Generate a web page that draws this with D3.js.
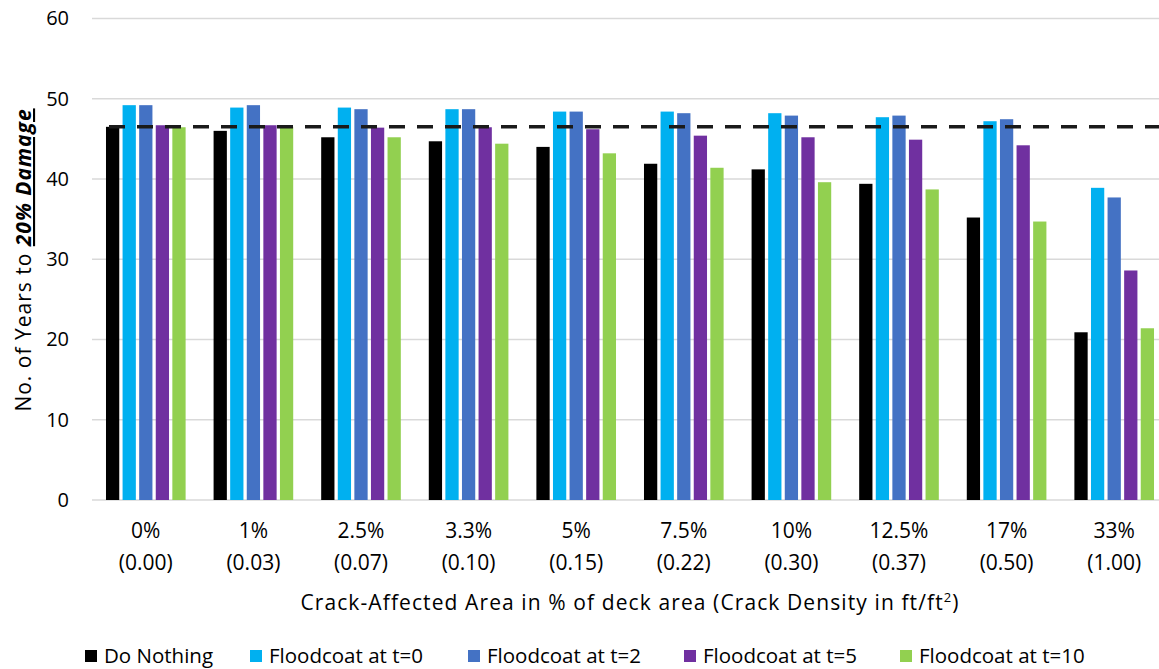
<!DOCTYPE html>
<html>
<head>
<meta charset="utf-8">
<script src="https://cdn.jsdelivr.net/npm/d3@7"></script>
<style>
  html, body { margin: 0; padding: 0; background: #fff; }
  svg { display: block; font-family: "Open Sans", Lato, sans-serif; }
</style>
</head>
<body>
<svg id="chart" width="1159" height="669"></svg>
<script>
// Crack-affected area categories (two-line labels)
const categories = ["0%", "1%", "2.5%", "3.3%", "5%", "7.5%", "10%", "12.5%", "17%", "33%"];
const densities = ["(0.00)", "(0.03)", "(0.07)", "(0.10)", "(0.15)", "(0.22)", "(0.30)", "(0.37)", "(0.50)", "(1.00)"];

// Years to 20% damage for each strategy
const doNothing = [46.5, 46.0, 45.2, 44.7, 44.0, 41.9, 41.2, 39.4, 35.2, 20.9];
const floodT0   = [49.2, 48.9, 48.9, 48.7, 48.4, 48.4, 48.2, 47.7, 47.2, 38.9];
const floodT2   = [49.2, 49.2, 48.7, 48.7, 48.4, 48.2, 47.9, 47.9, 47.45, 37.7];
const floodT5   = [46.7, 46.7, 46.4, 46.45, 46.2, 45.4, 45.2, 44.9, 44.2, 28.6];
const floodT10  = [46.45, 46.5, 45.2, 44.4, 43.2, 41.4, 39.6, 38.7, 34.7, 21.4];

const seriesNames = ["Do Nothing", "Floodcoat at t=0", "Floodcoat at t=2", "Floodcoat at t=5", "Floodcoat at t=10"];
const seriesValues = [doNothing, floodT0, floodT2, floodT5, floodT10];
const seriesColors = ["#000000", "#00b0f0", "#4472c4", "#7030a0", "#92d050"];

const yTicks = [0, 10, 20, 30, 40, 50, 60];
const referenceLevel = 46.5; // Do Nothing at 0% crack area

const svg = d3.select("#chart");
const plot = { left: 92, right: 1168, top: 18.5, bottom: 500 };

const y = d3.scaleLinear().domain([0, 60]).range([plot.bottom, plot.top]);
const x0 = d3.scaleBand().domain(categories).range([plot.left, plot.right])
  .paddingInner(0.26).paddingOuter(0.13);
const x1 = d3.scaleBand().domain(seriesNames).range([0, x0.bandwidth()]).paddingInner(0.2);

// Gridlines
svg.append("g").selectAll("line").data(yTicks).join("line")
  .attr("x1", plot.left).attr("x2", 1159)
  .attr("y1", d => y(d)).attr("y2", d => y(d))
  .attr("stroke", "#d9d9d9").attr("stroke-width", 1.5);

// Y tick labels
const yAxis = d3.axisLeft(y).tickValues(yTicks).tickSize(0).tickPadding(0);
const yg = svg.append("g").attr("transform", "translate(69,0)").call(yAxis);
yg.select(".domain").remove();
yg.selectAll("text").attr("font-size", 20).attr("fill", "#000")
  .attr("font-family", "'Open Sans', Lato, sans-serif");

// Bars
const groups = svg.append("g").selectAll("g").data(categories).join("g")
  .attr("transform", d => `translate(${x0(d)},0)`);
groups.selectAll("rect")
  .data((c, i) => seriesNames.map((s, k) => ({ s, v: seriesValues[k][i], color: seriesColors[k] })))
  .join("rect")
  .attr("x", d => x1(d.s))
  .attr("width", x1.bandwidth())
  .attr("y", d => y(d.v))
  .attr("height", d => y(0) - y(d.v))
  .attr("fill", d => d.color);

// Reference dashed line
svg.append("line")
  .attr("x1", 109).attr("x2", 1159)
  .attr("y1", y(referenceLevel)).attr("y2", y(referenceLevel))
  .attr("stroke", "#1a1a1a").attr("stroke-width", 3.5)
  .attr("stroke-dasharray", "16,12");

// X category labels
const xl = svg.append("g").selectAll("text").data(categories).join("text")
  .attr("x", d => x0(d) + x0.bandwidth() / 2)
  .attr("text-anchor", "middle").attr("font-size", 21).attr("fill", "#000");
xl.append("tspan").attr("x", d => x0(d) + x0.bandwidth() / 2).attr("y", 538).text(d => d);
xl.append("tspan").attr("x", d => x0(d) + x0.bandwidth() / 2).attr("y", 570)
  .text((d, i) => densities[i]);

// X axis title
const xt = svg.append("text").attr("x", 630).attr("y", 610)
  .attr("text-anchor", "middle").attr("font-size", 21).attr("letter-spacing", 1.1)
  .attr("fill", "#000");
xt.append("tspan").text("Crack-Affected Area in % of deck area (Crack Density in ft/ft");
xt.append("tspan").attr("font-size", 13).attr("dy", -8).text("2");
xt.append("tspan").attr("dy", 8).text(")");

// Y axis title
const yt = svg.append("text")
  .attr("transform", "translate(31,260) rotate(-90)")
  .attr("text-anchor", "middle").attr("font-size", 21).attr("letter-spacing", 1)
  .attr("fill", "#000");
yt.append("tspan").text("No. of Years to ");
yt.append("tspan").attr("font-weight", "bold").attr("font-style", "italic")
  .attr("text-decoration", "underline").text("20% Damage");

// Legend
const legendX = [85, 250, 468, 684, 900];
const lg = svg.append("g").selectAll("g").data(seriesNames).join("g")
  .attr("transform", (d, i) => `translate(${legendX[i]},650)`);
lg.append("rect").attr("width", 12).attr("height", 12)
  .attr("fill", (d, i) => seriesColors[i]);
lg.append("text").attr("x", 19).attr("y", 13).attr("font-size", 20.5).attr("fill", "#000")
  .text(d => d);
</script>
</body>
</html>
